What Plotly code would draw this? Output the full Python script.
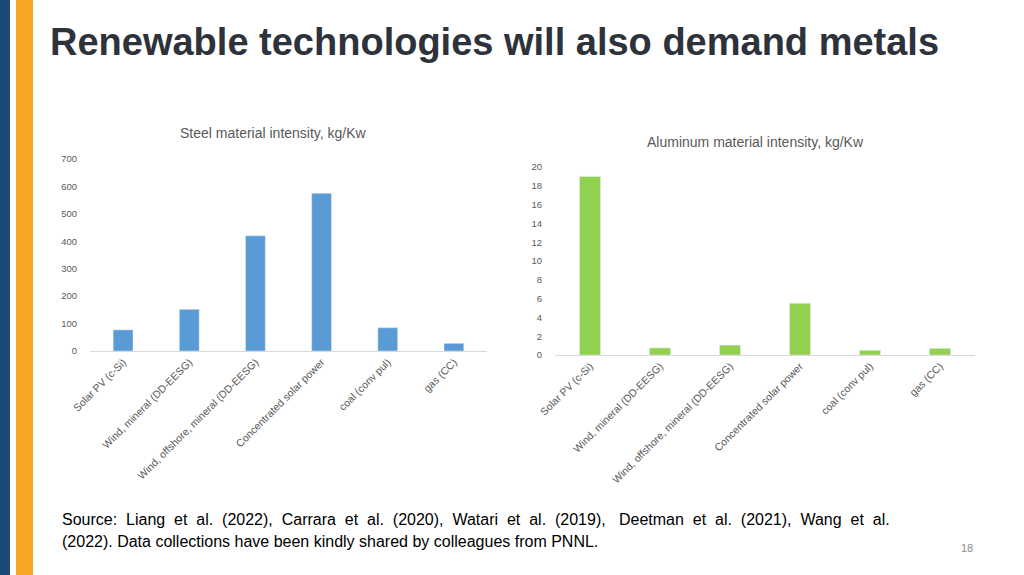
import plotly.graph_objects as go

# Données
technologies = ['Solar PV (c-Si)', 'Wind, mineral (DD-EESG)', 'Wind, offshore, mineral (DD-EESG)',
                'Concentrated solar power', 'coal (conv pul)', 'gas (CC)']
steel = [77, 152, 420, 575, 85, 28]
aluminum = [19, 0.75, 1.05, 5.5, 0.5, 0.7]

W, H = 1024, 575
grey = '#595959'

fig = go.Figure()
fig.add_trace(go.Bar(x=technologies, y=steel, marker_color='#5b9bd5', xaxis='x', yaxis='y'))
fig.add_trace(go.Bar(x=technologies, y=aluminum, marker_color='#92d050', xaxis='x2', yaxis='y2'))

axis_common = dict(showgrid=False, zeroline=False, fixedrange=True)
fig.update_layout(
    width=W, height=H, margin=dict(l=0, r=0, t=0, b=0, autoexpand=False),
    paper_bgcolor='white', plot_bgcolor='white', showlegend=False, bargap=0.7,
    font=dict(family='Liberation Sans, Arial', color=grey),
    xaxis=dict(domain=[90/W, 487/W], anchor='y', tickangle=-45, tickfont=dict(size=10.5, color=grey),
               showline=True, linecolor='#d9d9d9', ticks='', **axis_common),
    yaxis=dict(domain=[1-351/H, 1-159/H], anchor='x', range=[0, 700], dtick=100,
               tickfont=dict(size=9.5, color=grey), ticklabelstandoff=12, **axis_common),
    xaxis2=dict(domain=[555/W, 975/W], anchor='y2', tickangle=-45, tickfont=dict(size=10.5, color=grey),
                showline=True, linecolor='#d9d9d9', ticks='', **axis_common),
    yaxis2=dict(domain=[1-355/H, 1-167/H], anchor='x2', range=[0, 20], dtick=2,
                tickfont=dict(size=9.5, color=grey), ticklabelstandoff=12, **axis_common),
)

# Bandes verticales à gauche
fig.add_shape(type='rect', xref='paper', yref='paper', x0=0, x1=10/W, y0=0, y1=1,
              fillcolor='#1b4a7a', line_width=0, layer='below')
fig.add_shape(type='rect', xref='paper', yref='paper', x0=16/W, x1=33/W, y0=0, y1=1,
              fillcolor='#f5a623', line_width=0, layer='below')

def txt(x, y, s, size, color, anchor='left', bold=False):
    fig.add_annotation(x=x/W, y=1-y/H, xref='paper', yref='paper', text=f'<b>{s}</b>' if bold else s,
                       showarrow=False, xanchor=anchor, yanchor='middle',
                       font=dict(size=size, color=color, family='Liberation Sans, Arial'))

txt(48, 42, 'Renewable technologies will also demand metals', 38, '#2e323b', bold=True)
txt(273, 133, 'Steel material intensity, kg/Kw', 14, grey, 'center')
txt(755, 142, 'Aluminum material intensity, kg/Kw', 14, grey, 'center')
txt(60, 519, 'Source:  Liang  et  al.  (2022),  Carrara  et  al.  (2020),  Watari  et  al.  (2019),   Deetman  et  al.  (2021),  Wang  et  al.', 16, 'black')
txt(60, 541, '(2022). Data collections have been kindly shared by colleagues from PNNL.', 16, 'black')
txt(975, 548, '18', 11, '#8c8c8c', 'right')

fig.write_html('out.html', config={'displayModeBar': False},
               post_script="document.body.style.margin='0';")
